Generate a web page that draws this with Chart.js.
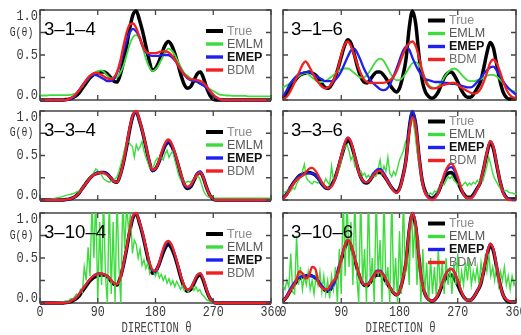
<!DOCTYPE html>
<html><head><meta charset="utf-8">
<script src="https://cdn.jsdelivr.net/npm/chart.js"></script>
<style>
html,body{margin:0;padding:0;background:#fff;}
#wrap{position:relative;width:521px;height:335px;overflow:hidden;}
#wrap canvas{position:absolute;left:0;top:0;}
</style>
</head><body>
<div id="wrap">
<canvas id="c0" width="521" height="335"></canvas>
<canvas id="c1" width="521" height="335"></canvas>
<canvas id="c2" width="521" height="335"></canvas>
<canvas id="c3" width="521" height="335"></canvas>
<canvas id="c4" width="521" height="335"></canvas>
<canvas id="c5" width="521" height="335"></canvas>
</div>
<script>
// ---------------- DATA ----------------
const seriesNames = ['True', 'EMLM', 'EMEP', 'BDM'];
const panelLabels = ['3–1–4', '3–1–6', '3–3–4', '3–3–6', '3–10–4', '3–10–6'];
const xTickValues = [0, 90, 180, 270, 360];
const xTickLabels = ['0', '90', '180', '270', '360'];
const yTickValues = [0, 0.25, 0.5, 0.75, 1];
const yTickLabels = ['0.0', '', '0.5', '', '1.0'];
const yAxisTitle = 'G(θ)';
const xAxisTitle = 'DIRECTION θ';

const grid5 = [0,5,10,15,20,25,30,35,40,45,50,55,60,65,70,75,80,85,90,95,100,105,110,115,120,125,130,135,140,145,150,155,160,165,170,175,180,185,190,195,200,205,210,215,220,225,230,235,240,245,250,255,260,265,270,275,280,285,290,295,300,305,310,315,320,325,330,335,340,345,350,355,360];
const grid3 = [0,3,6,9,12,15,18,21,24,27,30,33,36,39,42,45,48,51,54,57,60,63,66,69,72,75,78,81,84,87,90,93,96,99,102,105,108,111,114,117,120,123,126,129,132,135,138,141,144,147,150,153,156,159,162,165,168,171,174,177,180,183,186,189,192,195,198,201,204,207,210,213,216,219,222,225,228,231,234,237,240,243,246,249,252,255,258,261,264,267,270,273,276,279,282,285,288,291,294,297,300,303,306,309,312,315,318,321,324,327,330,333,336,339,342,345,348,351,354,357,360];

// True spectrum, cases 3-x-4 (grid5)
const trueA = [0,0,0,0,0,0,0,0,
 0.005,0.01,0.02,0.04,0.07,0.12,0.17,0.22,
 0.26,0.29,0.30,0.31,0.31,0.29,0.25,0.21,
 0.20,0.28,0.42,0.60,0.80,0.95,0.99,0.89,
 0.76,0.60,0.44,0.33,0.35,0.42,0.52,0.61,
 0.65,0.61,0.52,0.40,0.27,0.17,0.13,0.15,
 0.22,0.29,0.31,0.24,0.13,0.05,0.01,0,
 0,0,0,0,0,0,0,0,
 0,0,0,0,0,0,0,0,
 0];
// True spectrum, cases 3-x-6 (grid5)
const trueB = [0.02,0.06,0.12,0.18,0.23,0.27,0.29,0.30,
 0.31,0.30,0.28,0.24,0.18,0.14,0.13,0.17,
 0.24,0.35,0.48,0.60,0.67,0.63,0.51,0.37,
 0.26,0.20,0.19,0.23,0.28,0.31,0.31,0.28,
 0.23,0.17,0.12,0.09,0.13,0.26,0.45,0.80,
 0.99,0.85,0.50,0.22,0.09,0.04,0.02,0.04,
 0.09,0.18,0.26,0.30,0.31,0.27,0.20,0.12,
 0.06,0.03,0.03,0.07,0.13,0.20,0.35,0.52,
 0.64,0.58,0.40,0.22,0.09,0.03,0.01,0.01,
 0.01];

// 3-1-4 (grid5)
const emlm314 = [0.05,0.05,0.05,0.055,0.055,0.055,0.055,0.055,
 0.055,0.055,0.06,0.07,0.10,0.14,0.19,0.23,
 0.27,0.30,0.32,0.33,0.31,0.27,0.24,0.24,
 0.25,0.30,0.38,0.50,0.62,0.70,0.72,0.68,
 0.58,0.46,0.37,0.32,0.34,0.39,0.46,0.53,
 0.57,0.55,0.50,0.43,0.36,0.30,0.27,0.24,
 0.22,0.21,0.19,0.17,0.14,0.12,0.10,0.08,
 0.06,0.055,0.05,0.05,0.045,0.045,0.045,0.045,
 0.045,0.04,0.04,0.04,0.04,0.04,0.04,0.04,
 0.04];
const emep314 = [0,0,0,0,0,0,0,0,
 0,0.005,0.02,0.05,0.10,0.15,0.20,0.24,
 0.27,0.28,0.27,0.25,0.23,0.21,0.21,0.23,
 0.30,0.40,0.53,0.66,0.75,0.79,0.76,0.70,
 0.60,0.53,0.50,0.49,0.49,0.49,0.50,0.50,
 0.50,0.48,0.44,0.39,0.33,0.28,0.24,0.22,
 0.21,0.20,0.18,0.16,0.13,0.09,0.05,0.02,
 0.01,0,0,0,0,0,0,0,
 0,0,0,0,0,0,0,0,
 0];
const bdm314 = [0,0,0,0,0,0,0,0,
 0,0.01,0.03,0.06,0.10,0.15,0.20,0.25,
 0.28,0.30,0.30,0.28,0.26,0.24,0.23,0.25,
 0.31,0.43,0.60,0.75,0.84,0.85,0.80,0.70,
 0.60,0.54,0.52,0.52,0.52,0.53,0.54,0.54,
 0.53,0.50,0.45,0.39,0.33,0.28,0.25,0.23,
 0.23,0.22,0.21,0.19,0.15,0.10,0.06,0.03,
 0.01,0,0,0,0,0,0,0,
 0,0,0,0,0,0,0,0,
 0];

// 3-1-6 (grid5)
const emlm316 = [0.14,0.16,0.18,0.21,0.24,0.27,0.29,0.30,
 0.28,0.25,0.22,0.20,0.20,0.21,0.23,0.26,
 0.29,0.32,0.34,0.35,0.35,0.33,0.30,0.27,
 0.25,0.25,0.28,0.33,0.39,0.44,0.46,0.44,
 0.38,0.31,0.25,0.22,0.22,0.25,0.30,0.36,
 0.41,0.42,0.39,0.32,0.24,0.17,0.14,0.13,
 0.15,0.20,0.26,0.31,0.34,0.35,0.33,0.29,
 0.25,0.22,0.21,0.21,0.22,0.23,0.25,0.27,
 0.28,0.28,0.26,0.23,0.19,0.15,0.12,0.10,
 0.09];
const emep316 = [0.04,0.10,0.17,0.22,0.26,0.29,0.30,0.31,
 0.31,0.29,0.27,0.25,0.23,0.21,0.21,0.21,
 0.22,0.26,0.32,0.40,0.48,0.55,0.57,0.52,
 0.44,0.35,0.28,0.22,0.18,0.15,0.12,0.11,
 0.12,0.17,0.25,0.34,0.44,0.54,0.59,0.56,
 0.47,0.39,0.32,0.27,0.23,0.22,0.21,0.20,
 0.20,0.20,0.19,0.19,0.18,0.18,0.17,0.16,
 0.15,0.14,0.14,0.16,0.20,0.24,0.29,0.33,
 0.36,0.37,0.33,0.27,0.21,0.16,0.12,0.09,
 0.06];
const bdm316 = [0.01,0.03,0.08,0.15,0.23,0.31,0.39,0.43,
 0.38,0.31,0.24,0.19,0.15,0.13,0.14,0.18,
 0.25,0.35,0.50,0.61,0.65,0.60,0.50,0.39,
 0.30,0.23,0.20,0.19,0.19,0.19,0.19,0.19,
 0.20,0.22,0.25,0.31,0.40,0.50,0.58,0.63,
 0.65,0.60,0.48,0.33,0.21,0.15,0.13,0.13,
 0.14,0.16,0.17,0.18,0.19,0.19,0.17,0.14,
 0.12,0.10,0.08,0.07,0.08,0.12,0.20,0.30,
 0.41,0.45,0.41,0.32,0.21,0.12,0.06,0.03,
 0.02];

// 3-3-4
const emlm334 = [0,0,0,0,0.005,0.01,0.01,0.015,0.02,0.025,
 0.03,0.035,0.04,0.05,0.055,0.06,0.065,0.07,0.08,0.09,
 0.10,0.11,0.14,0.17,0.19,0.23,0.26,0.28,0.31,0.35,
 0.33,0.31,0.28,0.24,0.22,0.21,0.20,0.21,0.22,0.24,
 0.26,0.32,0.40,0.48,0.58,0.64,0.66,0.62,0.60,0.48,
 0.62,0.56,0.60,0.66,0.55,0.48,0.42,0.36,0.34,0.38,
 0.44,0.47,0.44,0.48,0.45,0.52,0.56,0.48,0.52,0.55,
 0.45,0.37,0.28,0.23,0.21,0.20,0.20,0.21,0.20,0.22,
 0.24,0.25,0.27,0.24,0.17,0.10,0.06,0.04,0.03,0.025,
 0.02,0.02,0.02,0.02,0.02,0.02,0.02,0.02,0.02,0.02,
 0.02,0.02,0.02,0.02,0.02,0.02,0.02,0.02,0.02,0.02,
 0.02,0.02,0.02,0.02,0.02,0.02,0.02,0.02,0.02,0.02,
 0.02];
const emep334 = [0,0,0,0,0,0,0,0,
 0.005,0.01,0.02,0.04,0.07,0.12,0.17,0.22,
 0.26,0.29,0.31,0.31,0.31,0.29,0.25,0.21,
 0.20,0.28,0.42,0.61,0.81,0.95,0.99,0.89,
 0.76,0.60,0.44,0.33,0.35,0.42,0.53,0.62,
 0.66,0.62,0.52,0.40,0.27,0.17,0.14,0.16,
 0.23,0.30,0.32,0.25,0.13,0.05,0.01,0,
 0,0,0,0,0,0,0,0,
 0,0,0,0,0,0,0,0,
 0];
const bdm334 = [0,0,0,0,0,0,0,0,
 0.005,0.01,0.02,0.04,0.07,0.12,0.17,0.22,
 0.26,0.29,0.30,0.31,0.30,0.28,0.25,0.21,
 0.20,0.28,0.43,0.62,0.82,0.96,1.00,0.90,
 0.77,0.61,0.45,0.34,0.35,0.43,0.55,0.64,
 0.68,0.64,0.54,0.41,0.28,0.18,0.15,0.17,
 0.23,0.29,0.31,0.24,0.13,0.05,0.01,0,
 0,0,0,0,0,0,0,0,
 0,0,0,0,0,0,0,0,
 0];

// 3-3-6
const emlm336 = [0.08,0.09,0.10,0.12,0.10,0.14,0.12,0.18,0.22,0.25,
 0.32,0.40,0.25,0.22,0.20,0.18,0.21,0.20,0.19,0.22,
 0.20,0.18,0.24,0.20,0.17,0.38,0.22,0.25,0.30,0.35,
 0.45,0.55,0.60,0.62,0.55,0.45,0.50,0.38,0.42,0.30,
 0.33,0.28,0.30,0.25,0.28,0.25,0.30,0.26,0.27,0.35,
 0.45,0.30,0.38,0.32,0.48,0.30,0.26,0.32,0.28,0.36,
 0.45,0.50,0.55,0.65,0.58,0.80,0.95,0.88,0.75,0.55,
 0.42,0.26,0.16,0.10,0.07,0.06,0.08,0.06,0.10,0.09,
 0.13,0.15,0.18,0.17,0.22,0.26,0.24,0.27,0.22,0.20,
 0.17,0.20,0.15,0.18,0.20,0.16,0.19,0.17,0.20,0.18,
 0.22,0.19,0.25,0.22,0.30,0.38,0.48,0.40,0.30,0.24,
 0.20,0.16,0.13,0.12,0.10,0.11,0.09,0.08,0.08,0.07,
 0.07];
const emep336 = [0.02,0.06,0.12,0.18,0.23,0.27,0.29,0.30,
 0.30,0.30,0.28,0.24,0.18,0.14,0.13,0.16,
 0.24,0.36,0.50,0.63,0.70,0.65,0.52,0.37,
 0.26,0.20,0.20,0.24,0.30,0.34,0.35,0.31,
 0.25,0.18,0.12,0.08,0.12,0.26,0.46,0.81,
 1.00,0.86,0.50,0.21,0.08,0.03,0.01,0.03,
 0.09,0.19,0.29,0.35,0.37,0.33,0.24,0.13,
 0.05,0.02,0.02,0.06,0.13,0.20,0.35,0.53,
 0.66,0.60,0.41,0.22,0.09,0.03,0.01,0,
 0];
const bdm336 = [0.01,0.05,0.11,0.17,0.22,0.25,0.27,0.31,
 0.35,0.36,0.33,0.27,0.20,0.15,0.13,0.15,
 0.23,0.35,0.50,0.63,0.70,0.66,0.52,0.37,
 0.26,0.21,0.20,0.23,0.28,0.32,0.33,0.29,
 0.23,0.17,0.11,0.08,0.12,0.25,0.44,0.76,
 0.93,0.82,0.50,0.21,0.07,0.02,0,0.02,
 0.08,0.19,0.31,0.38,0.41,0.36,0.26,0.14,
 0.05,0.02,0.02,0.05,0.12,0.20,0.35,0.53,
 0.66,0.60,0.41,0.22,0.08,0.02,0,0,
 0];

// 3-10-4
const emlm3104 = [0,0,0,0,0,0,0,0,0.005,0.005,
 0.01,0.01,0.015,0.02,0.02,0.03,0.05,0.04,0.07,0.10,
 0.08,0.15,0.12,0.40,0.25,0.62,0.30,1.10,0.50,1.20,
 0.00,0.90,0.20,1.20,0.30,0.00,1.20,0.10,0.90,0.00,
 1.20,0.40,0.00,1.15,0.60,1.10,0.80,1.00,0.55,0.70,
 0.65,0.50,0.60,0.42,0.48,0.38,0.45,0.33,0.40,0.35,
 0.30,0.36,0.28,0.32,0.25,0.30,0.22,0.27,0.20,0.25,
 0.18,0.24,0.20,0.15,0.19,0.14,0.17,0.12,0.16,0.20,
 0.14,0.18,0.13,0.15,0.10,0.08,0.05,0.03,0.02,0.01,
 0,0,0,0,0,0,0,0,0,0,
 0,0,0,0,0,0,0,0,0,0,
 0,0,0,0,0,0,0,0,0,0,
 0];
const emep3104 = [0,0,0,0,0,0,0,0,
 0.005,0.01,0.03,0.05,0.09,0.14,0.19,0.24,
 0.28,0.31,0.33,0.33,0.32,0.30,0.26,0.22,
 0.21,0.28,0.42,0.61,0.81,0.96,0.99,0.90,
 0.77,0.61,0.46,0.36,0.35,0.42,0.54,0.64,
 0.68,0.64,0.54,0.42,0.29,0.19,0.15,0.17,
 0.24,0.31,0.33,0.26,0.14,0.05,0.01,0,
 0,0,0,0,0,0,0,0,
 0,0,0,0,0,0,0,0,
 0];
const bdm3104 = [0,0,0,0,0,0,0,0,
 0.005,0.01,0.03,0.05,0.09,0.14,0.19,0.24,
 0.28,0.31,0.32,0.33,0.32,0.30,0.26,0.22,
 0.21,0.28,0.43,0.62,0.82,0.97,1.00,0.90,
 0.78,0.62,0.47,0.37,0.36,0.43,0.56,0.66,
 0.69,0.65,0.55,0.42,0.29,0.19,0.15,0.17,
 0.24,0.31,0.33,0.26,0.14,0.05,0.01,0,
 0,0,0,0,0,0,0,0,
 0,0,0,0,0,0,0,0,
 0];

// 3-10-6
const emlm3106 = [0.20,0.15,0.25,0.18,0.55,0.12,0.10,0.75,0.20,0.40,
 0.15,0.30,0.20,0.35,0.15,0.25,0.10,0.30,0.20,0.35,
 0.12,0.30,0.10,0.25,0.05,0.30,0.15,0.40,0.00,0.60,
 0.10,1.20,0.30,1.20,0.40,0.90,0.20,1.20,0.30,0.00,
 1.20,0.20,0.60,0.00,1.20,0.20,0.50,0.00,1.20,0.30,
 0.70,0.00,1.20,0.20,0.40,0.00,1.20,0.10,0.50,0.00,
 0.80,0.10,1.20,0.30,0.60,0.20,1.20,0.50,0.90,0.20,
 0.70,0.00,0.60,0.10,0.45,0.00,0.50,0.10,0.40,0.05,
 0.60,0.15,0.45,0.10,0.50,0.20,0.40,0.10,0.45,0.20,
 0.55,0.15,0.35,0.20,0.45,0.25,0.50,0.20,0.35,0.25,
 0.40,0.20,0.45,0.30,0.50,0.35,0.55,0.30,0.40,0.25,
 0.45,0.20,0.35,0.25,0.40,0.20,0.30,0.15,0.30,0.20,
 0.25];
const emep3106 = [0.02,0.07,0.14,0.20,0.25,0.28,0.30,0.30,
 0.30,0.30,0.28,0.24,0.19,0.15,0.14,0.17,
 0.24,0.36,0.50,0.63,0.70,0.65,0.52,0.38,
 0.27,0.21,0.21,0.25,0.31,0.36,0.36,0.32,
 0.25,0.18,0.12,0.09,0.13,0.27,0.47,0.82,
 1.00,0.87,0.51,0.22,0.09,0.04,0.02,0.04,
 0.10,0.20,0.30,0.36,0.38,0.34,0.25,0.14,
 0.06,0.03,0.03,0.07,0.13,0.21,0.36,0.54,
 0.66,0.60,0.41,0.22,0.09,0.04,0.02,0.01,
 0.01];
const bdm3106 = [0.02,0.06,0.12,0.18,0.24,0.35,0.33,0.27,
 0.30,0.40,0.38,0.22,0.17,0.15,0.16,0.22,
 0.26,0.34,0.49,0.63,0.70,0.65,0.52,0.38,
 0.27,0.21,0.20,0.24,0.30,0.35,0.35,0.31,
 0.25,0.18,0.12,0.09,0.13,0.26,0.46,0.81,
 1.00,0.87,0.50,0.22,0.09,0.04,0.02,0.04,
 0.10,0.20,0.30,0.36,0.38,0.34,0.25,0.14,
 0.06,0.03,0.03,0.07,0.13,0.21,0.36,0.54,
 0.66,0.60,0.41,0.22,0.09,0.04,0.02,0.01,
 0.01];

// panel contents: True, EMLM (grid, values), EMEP, BDM
const panelData = [
  {truth: trueA, emlmGrid: grid5, emlm: emlm314,  emep: emep314,  bdm: bdm314},
  {truth: trueB, emlmGrid: grid5, emlm: emlm316,  emep: emep316,  bdm: bdm316},
  {truth: trueA, emlmGrid: grid3, emlm: emlm334,  emep: emep334,  bdm: bdm334},
  {truth: trueB, emlmGrid: grid3, emlm: emlm336,  emep: emep336,  bdm: bdm336},
  {truth: trueA, emlmGrid: grid3, emlm: emlm3104, emep: emep3104, bdm: bdm3104},
  {truth: trueB, emlmGrid: grid3, emlm: emlm3106, emep: emep3106, bdm: bdm3106}
];

// ---------------- LAYOUT / STYLE ----------------
const W = 521, H = 335;
const colRect = [{l: 40, r: 271}, {l: 283, r: 516}];
const rowRect = [{t: 10, b: 100}, {t: 111, b: 200}, {t: 213, b: 303}];
const seriesColors = ['#000000', '#3cdc3c', '#1f1ff2', '#f22020'];
const seriesWidths = [3.5, 1.8, 2.3, 2.3];
const legendTextColors = ['#8a8a8a', '#555555', '#111111', '#6a6a6a'];
const frameColor = '#444444';
const monoFont = '"Liberation Mono", "DejaVu Sans Mono", monospace';

function pts(xs, ys) { return ys.map((v, i) => ({x: xs[i], y: v})); }

function drawText(ctx, s, x, y, font, color, align, sx) {
  ctx.save();
  ctx.translate(x, y);
  ctx.scale(sx, 1);
  ctx.font = font;
  ctx.fillStyle = color;
  ctx.textAlign = align;
  ctx.textBaseline = 'middle';
  ctx.fillText(s, 0, 0);
  ctx.restore();
}

const decor = {
  id: 'decor',
  beforeDatasetsDraw(chart, args, o) {
    const {ctx, chartArea: a} = chart;
    ctx.save();
    ctx.strokeStyle = frameColor;
    ctx.lineWidth = 1.5;
    ctx.strokeRect(a.left, a.top, a.right - a.left, a.bottom - a.top);
    ctx.restore();
  },
  afterDatasetsDraw(chart, args, o) {
    const {ctx, chartArea: a} = chart;
    const xs = chart.scales.x, ys = chart.scales.y;
    ctx.save();
    // inward ticks on all four sides
    ctx.strokeStyle = frameColor;
    ctx.lineWidth = 1.3;
    ctx.beginPath();
    yTickValues.forEach(v => {
      const py = ys.getPixelForValue(v);
      ctx.moveTo(a.left, py); ctx.lineTo(a.left + 5, py);
      ctx.moveTo(a.right - 5, py); ctx.lineTo(a.right, py);
    });
    xTickValues.forEach(v => {
      const px = xs.getPixelForValue(v);
      ctx.moveTo(px, a.top); ctx.lineTo(px, a.top + 5);
      ctx.moveTo(px, a.bottom - 5); ctx.lineTo(px, a.bottom);
    });
    ctx.stroke();

    // panel label
    const lx = o.col === 0 ? a.left + 4 : a.left + 8;
    drawText(ctx, o.label, lx, a.top + 19.5, '19px "Liberation Sans", Arial, sans-serif', '#000', 'left', 0.98);

    // legend
    const lgX1 = o.col === 0 ? 206 : 428;
    const lgY0 = o.col === 0 ? a.top + 21 : a.top + 10.5;
    seriesNames.forEach((name, i) => {
      const yy = lgY0 + 13 * i;
      ctx.strokeStyle = seriesColors[i];
      ctx.lineWidth = i === 0 ? 4 : 3.4;
      ctx.beginPath();
      ctx.moveTo(lgX1, yy); ctx.lineTo(lgX1 + 17, yy);
      ctx.stroke();
      const f = (i === 2 ? 'bold ' : '') + '12.5px "Liberation Sans", Arial, sans-serif';
      drawText(ctx, name, lgX1 + 21, yy + 0.5, f, legendTextColors[i], 'left', 1);
    });

    // y axis labels (left column)
    if (o.col === 0) {
      const tf = '15px ' + monoFont;
      yTickValues.forEach((v, i) => {
        if (!yTickLabels[i]) return;
        let py = ys.getPixelForValue(v);
        if (v === 1) py = a.top + 6.5;
        if (v === 0) py = a.bottom - 4.5;
        drawText(ctx, yTickLabels[i], 38, py, tf, '#3a3a3a', 'right', 0.8);
      });
      drawText(ctx, yAxisTitle, 21.5, ys.getPixelForValue(0.75), '12px ' + monoFont, '#333', 'center', 0.82);
    }
    // x axis labels (bottom row)
    if (o.row === 2) {
      const tf = '15px ' + monoFont;
      xTickValues.forEach((v, i) => {
        drawText(ctx, xTickLabels[i], xs.getPixelForValue(v), a.bottom + 9, tf, '#3a3a3a', 'center', 0.78);
      });
      drawText(ctx, xAxisTitle, (a.left + a.right) / 2 + 1, a.bottom + 25, '14px ' + monoFont, '#444', 'center', 0.76);
    }
    ctx.restore();
  }
};

panelData.forEach((pd, k) => {
  const row = Math.floor(k / 2), col = k % 2;
  const cr = colRect[col], rr = rowRect[row];
  const clipSmooth = {left: 1, top: 2, right: 1, bottom: 2};
  const clipNoisy = {left: 1, top: 0, right: 1, bottom: 2};
  const noisy = pd.emlmGrid === grid3;
  const datasets = [
    {label: seriesNames[0], data: pts(grid5, pd.truth), order: 4, clip: clipSmooth, cubicInterpolationMode: 'monotone'},
    {label: seriesNames[1], data: pts(pd.emlmGrid, pd.emlm), order: 3, clip: noisy ? clipNoisy : clipSmooth,
      cubicInterpolationMode: noisy ? 'default' : 'monotone', tension: noisy ? 0 : 0.4},
    {label: seriesNames[2], data: pts(grid5, pd.emep), order: 2, clip: clipSmooth, cubicInterpolationMode: 'monotone'},
    {label: seriesNames[3], data: pts(grid5, pd.bdm), order: 1, clip: clipSmooth, cubicInterpolationMode: 'monotone'}
  ].map((d, i) => Object.assign({
    borderColor: seriesColors[i],
    borderWidth: (i === 1 && noisy) ? 1.4 : seriesWidths[i],
    pointRadius: 0,
    fill: false
  }, d));

  new Chart(document.getElementById('c' + k), {
    type: 'line',
    data: {datasets},
    options: {
      responsive: false,
      maintainAspectRatio: false,
      animation: false,
      devicePixelRatio: 1,
      layout: {padding: {left: cr.l, right: W - cr.r, top: rr.t, bottom: H - rr.b}},
      scales: {
        x: {type: 'linear', min: 0, max: 360, display: false},
        y: {type: 'linear', min: 0, max: 1, display: false}
      },
      plugins: {
        legend: {display: false},
        tooltip: {enabled: false},
        decor: {label: panelLabels[k], row, col}
      },
      events: []
    },
    plugins: [decor]
  });
});
</script>
</body></html>
